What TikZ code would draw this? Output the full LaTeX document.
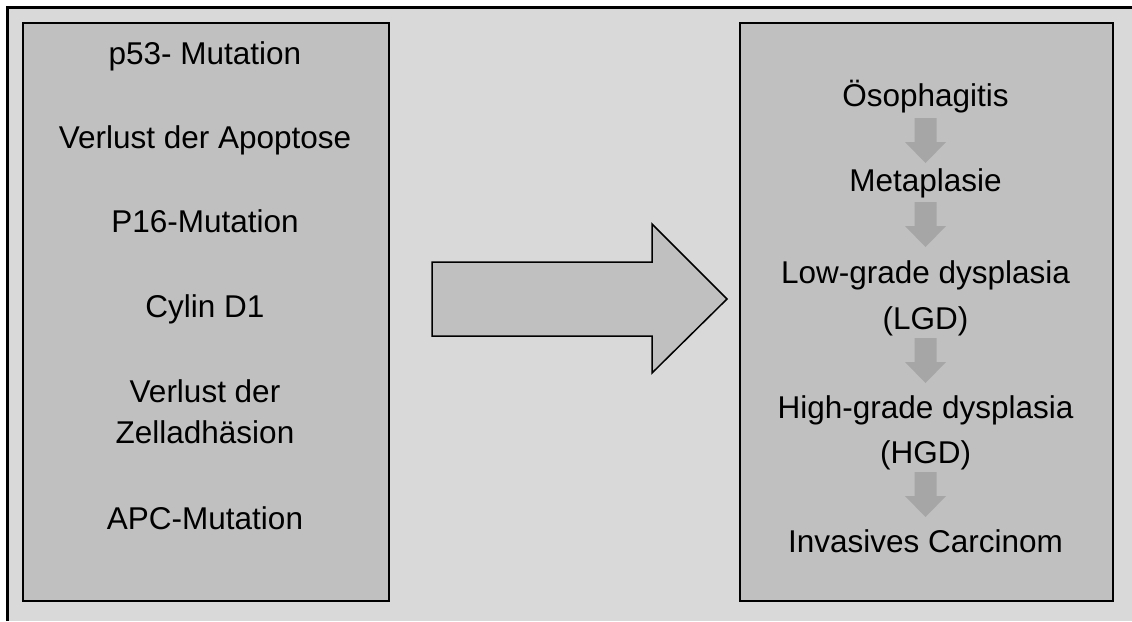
\documentclass[tikz,border=0pt]{standalone}
\usepackage{fontspec}
\setmainfont{Liberation Sans}
\definecolor{bgray}{HTML}{D9D9D9}
\definecolor{boxgray}{HTML}{C0C0C0}
\definecolor{arrgray}{HTML}{A6A6A6}
\begin{document}
\begin{tikzpicture}[x=1pt,y=-1pt,
  lbl/.style={inner sep=0pt, text height=22.5pt, text depth=0pt,
    font=\fontsize{31.5}{36}\selectfont, anchor=center},
  panel/.style={draw=black, line width=1.5pt, fill=boxgray},
  smallarrow/.style={fill=arrgray, draw=none}]
\useasboundingbox (0,0) rectangle (1132,621);
% background and frame (top and left lines only)
\fill[bgray] (7.5,7.5) rectangle (1132,621);
\draw[line width=3pt] (7.5,621) -- (7.5,7.5) -- (1132,7.5);
% panels
\node[panel, minimum width=366pt, minimum height=578pt, inner sep=0pt, anchor=north west] (left) at (22,22) {};
\node[panel, minimum width=373pt, minimum height=578pt, inner sep=0pt, anchor=north west] (right) at (739,22) {};
% left texts
\node[lbl] (t1) at (205,53) {p53- Mutation};
\node[lbl] (t2) at (205,137) {Verlust der Apoptose};
\node[lbl] (t3) at (205,221) {P16-Mutation};
\node[lbl] (t4) at (205,306) {Cylin D1};
\node[lbl] (t5a) at (205,391) {Verlust der};
\node[lbl] (t5b) at (205,432) {Zelladhäsion};
\node[lbl] (t6) at (205,518) {APC-Mutation};
% big arrow
\draw[line width=1.5pt, fill=boxgray, line join=miter]
  (432,262) -- (652,262) -- (652,224) -- (727,299) -- (652,373) -- (652,336) -- (432,336) -- cycle;
% right texts
\node[lbl] (r1) at (925.5,95) {Ösophagitis};
\node[lbl] (r2) at (925.5,180) {Metaplasie};
\node[lbl] (r3a) at (925.5,272) {Low-grade dysplasia};
\node[lbl] (r3b) at (925.5,318) {(LGD)};
\node[lbl] (r4a) at (925.5,407) {High-grade dysplasia};
\node[lbl] (r4b) at (925.5,452) {(HGD)};
\node[lbl] (r5) at (925.5,541) {Invasives Carcinom};
% small block arrows
\foreach \n/\y in {a1/118, a2/202, a3/338, a4/472}{
  \coordinate (\n) at (925.5,\y);
  \fill[smallarrow] ([xshift=-11pt]\n) -- ([xshift=11pt]\n) -- ([xshift=11pt,yshift=-24pt]\n)
    -- ([xshift=20.5pt,yshift=-24pt]\n) -- ([yshift=-45pt]\n) -- ([xshift=-20.5pt,yshift=-24pt]\n)
    -- ([xshift=-11pt,yshift=-24pt]\n) -- cycle;
}
\end{tikzpicture}
\end{document}
